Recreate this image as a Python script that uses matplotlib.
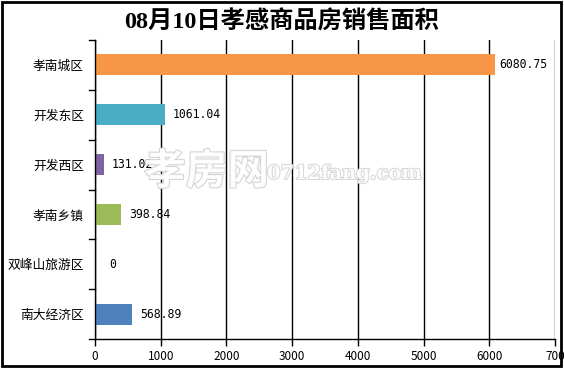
import matplotlib
matplotlib.use("Agg")
import matplotlib.pyplot as plt
import matplotlib.patches as mpatches
import matplotlib.patheffects as pe

plt.rcParams['font.family'] = ['Noto Sans CJK SC', 'DejaVu Sans']

title = "08月10日孝感商品房销售面积"
categories = ["孝南城区", "开发东区", "开发西区", "孝南乡镇", "双峰山旅游区", "南大经济区"]
values = [6080.75, 1061.04, 131.02, 398.84, 0, 568.89]
value_labels = ["6080.75", "1061.04", "131.02", "398.84", "0", "568.89"]
colors = ["#F79646", "#4BACC6", "#8064A2", "#9BBB59", "#4F81BD", "#4F81BD"]
xticks = [0, 1000, 2000, 3000, 4000, 5000, 6000, 7000]
xtick_labels = ["0", "1000", "2000", "3000", "4000", "5000", "6000", "700"]

fig = plt.figure(figsize=(5.64, 3.69), dpi=100)
ax = fig.add_axes([95/564, 30/369, 460/564, 299/369])

y = list(range(len(categories)))
ax.barh(y, values, height=0.42, color=colors, zorder=3)
ax.set_ylim(len(categories) - 0.5, -0.5)
ax.set_xlim(0, 7000)

for yi, v, lab in zip(y, values, value_labels):
    off = 3 if v > 6000 else (10 if v == 0 else 5.5)
    ax.annotate(lab, (v, yi), xytext=(off, 0), textcoords="offset points",
                va="center", ha="left", fontsize=8.3, family=['DejaVu Sans Mono'], zorder=4)

ax.set_xticks(xticks)
ax.set_xticklabels(xtick_labels, fontsize=8.5)
ax.set_yticks(y)
ax.set_yticklabels(categories, fontsize=9.2)
ax.tick_params(axis='y', length=0, pad=8)
ax.tick_params(axis='x', length=5, width=1, pad=3, direction='out')
for yb in [i - 0.5 for i in range(len(categories) + 1)]:
    ax.plot([-0.013, 0], [yb, yb], transform=ax.get_yaxis_transform(), color='black',
            lw=1, clip_on=False, zorder=5)

ax.grid(axis='x', color='black', lw=1, zorder=1)
for s in ['top', 'right']:
    ax.spines[s].set_visible(False)
for s in ['left', 'bottom']:
    ax.spines[s].set_linewidth(1)
    ax.spines[s].set_zorder(5)

fig.text(0.5, 0.94, title, ha='center', va='center', fontsize=17.5, fontweight='bold',
         family=['Liberation Serif', 'Noto Sans CJK SC'])

# watermark
fig.text(144/564, 1 - 172/369, "孝房网", fontsize=30, ha='left', va='center', color='white',
         fontweight='bold', path_effects=[pe.withStroke(linewidth=1.5, foreground='#d0d0d0')], alpha=0.9)
fig.text(267/564, 1 - 174/369, "0712fang.com", fontsize=14, ha='left', va='center', color='white',
         fontweight='bold', family=['DejaVu Serif'],
         path_effects=[pe.withStroke(linewidth=1.3, foreground='#d0d0d0')], alpha=0.9)

fig.patches.append(mpatches.Rectangle((2/564, 3/369), 559/564, 364/369, transform=fig.transFigure,
                                      fill=False, edgecolor='black', lw=2))

fig.savefig("out.png", dpi=100)
